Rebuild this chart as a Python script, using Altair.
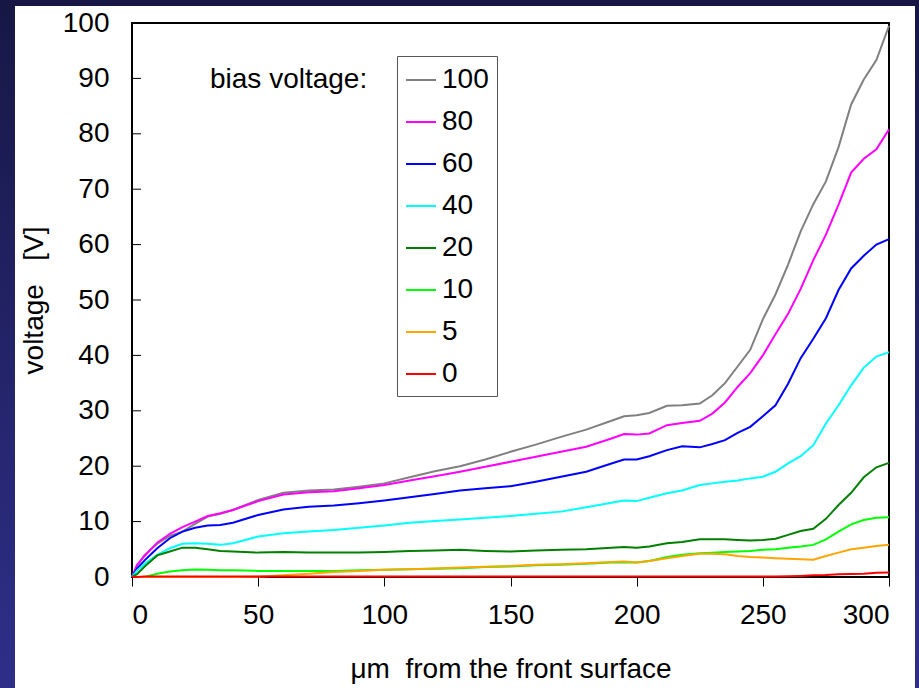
import altair as alt
import pandas as pd

# depth positions (µm from the front surface)
depth = [0, 2, 5, 10, 15, 20, 25, 30, 35, 40, 50, 60, 70, 80, 90, 100, 110, 120,
         130, 140, 150, 160, 170, 180, 190, 195, 200, 205, 212, 218, 225, 230, 235,
         240, 245, 250, 255, 260, 265, 270, 275, 280, 285, 290, 295, 300]

# potential profiles for each bias voltage [V]
v100 = [0, 2.0, 4.0, 6.0, 7.4, 8.2, 9.6, 10.9, 11.4, 12.1, 13.9, 15.2, 15.6, 15.8, 16.3, 16.9,
        18.0, 19.1, 20.0, 21.2, 22.6, 23.9, 25.3, 26.6, 28.2, 29.0, 29.2, 29.6, 30.9, 31.0,
        31.3, 32.8, 35.0, 38.0, 41.0, 46.5, 51.0, 56.4, 62.4, 67.3, 71.4, 77.6, 85.3, 89.8,
        93.3, 99.5]
v80 = [0, 2.2, 3.8, 6.2, 7.8, 9.0, 10.0, 11.0, 11.5, 12.1, 13.7, 14.9, 15.3, 15.5, 16.0, 16.6,
       17.4, 18.2, 19.0, 19.9, 20.8, 21.7, 22.6, 23.5, 25.0, 25.8, 25.7, 25.9, 27.4, 27.8,
       28.2, 29.5, 31.5, 34.3, 36.8, 40.0, 43.8, 47.5, 52.0, 57.2, 61.8, 67.2, 73.0, 75.5,
       77.2, 80.8]
v60 = [0, 1.5, 3.0, 5.2, 7.0, 8.2, 8.9, 9.3, 9.4, 9.8, 11.2, 12.2, 12.7, 12.9, 13.3, 13.8,
       14.4, 15.0, 15.6, 16.0, 16.4, 17.2, 18.1, 19.0, 20.5, 21.2, 21.2, 21.8, 22.9, 23.6,
       23.4, 24.0, 24.7, 26.0, 27.1, 29.0, 31.0, 34.9, 39.5, 43.0, 46.7, 51.8, 55.7, 58.0,
       60.0, 61.0]
v40 = [0, 1.2, 2.4, 4.0, 5.2, 6.0, 6.1, 6.0, 5.8, 6.1, 7.3, 7.9, 8.2, 8.5, 8.9, 9.3,
       9.8, 10.1, 10.4, 10.7, 11.0, 11.4, 11.8, 12.6, 13.4, 13.8, 13.7, 14.3, 15.1, 15.6,
       16.6, 16.9, 17.2, 17.4, 17.8, 18.1, 19.0, 20.5, 21.8, 23.8, 27.7, 31.0, 34.6, 37.8,
       39.8, 40.6]
v20 = [0, 0.5, 1.9, 3.9, 4.6, 5.3, 5.3, 5.0, 4.7, 4.6, 4.4, 4.5, 4.4, 4.4, 4.4, 4.5,
       4.7, 4.8, 4.9, 4.7, 4.6, 4.8, 4.9, 5.0, 5.3, 5.4, 5.3, 5.5, 6.1, 6.3,
       6.8, 6.8, 6.8, 6.7, 6.6, 6.7, 6.9, 7.6, 8.3, 8.7, 10.5, 13.0, 15.2, 18.0,
       19.8, 20.6]
v10 = [0, 0, 0, 0.6, 1.0, 1.2, 1.35, 1.3, 1.2, 1.2, 1.1, 1.1, 1.1, 1.1, 1.2, 1.3,
       1.4, 1.5, 1.6, 1.8, 1.9, 2.1, 2.2, 2.4, 2.6, 2.6, 2.6, 2.9, 3.6, 4.0,
       4.3, 4.4, 4.5, 4.6, 4.7, 4.9, 5.0, 5.3, 5.5, 5.8, 6.8, 8.2, 9.5, 10.3,
       10.7, 10.8]
v5 = [0, 0, 0, 0, 0, 0, 0, 0, 0, 0, 0.05, 0.3, 0.6, 0.9, 1.1, 1.3,
      1.4, 1.55, 1.7, 1.85, 2.0, 2.2, 2.3, 2.5, 2.7, 2.8, 2.6, 2.9, 3.4, 3.8,
      4.2, 4.2, 4.1, 3.8, 3.6, 3.5, 3.4, 3.3, 3.2, 3.1, 3.8, 4.4, 5.0, 5.3,
      5.6, 5.8]
v0 = [0, 0, 0.1, 0.1, 0.1, 0.1, 0.1, 0.1, 0.1, 0.1, 0.1, 0.1, 0.1, 0.1, 0.1, 0.1,
      0.1, 0.1, 0.1, 0.1, 0.1, 0.1, 0.1, 0.1, 0.1, 0.1, 0.1, 0.1, 0.1, 0.1,
      0.1, 0.1, 0.1, 0.1, 0.1, 0.1, 0.1, 0.15, 0.2, 0.3, 0.35, 0.5, 0.55, 0.6,
      0.75, 0.8]

bias_labels = ["100", "80", "60", "40", "20", "10", "5", "0"]
line_colors = ["#808080", "#ff00ff", "#0000ff", "#00ffff", "#008000", "#00ff00", "#ffa500", "#ff0000"]
profiles = [v100, v80, v60, v40, v20, v10, v5, v0]

x_ticks = [0, 50, 100, 150, 200, 250, 300]
y_ticks = [10, 20, 30, 40, 50, 60, 70, 80, 90]

rows = []
for lab, vals in zip(bias_labels, profiles):
    for d, v in zip(depth, vals):
        rows.append({"depth": d, "voltage": v, "bias": lab})
df = pd.DataFrame(rows)

W, H = 757, 554
FONT = "Liberation Sans"
NBSP = "\u00a0"

x_scale = alt.Scale(domain=[0, 300], nice=False, zero=False)
y_scale = alt.Scale(domain=[0, 100], nice=False)

one = pd.DataFrame({"k": [0]})

# slide backdrop and white panel
backdrop = alt.Chart(one).mark_rect(
    fill=alt.LinearGradient(
        gradient="linear",
        stops=[alt.GradientStop(offset=0, color="#171745"),
               alt.GradientStop(offset=1, color="#2f2f8a")],
        x1=0, x2=0, y1=0, y2=1,
    )
).encode(x=alt.value(-132), x2=alt.value(W + 30), y=alt.value(-23), y2=alt.value(H + 111))

panel = alt.Chart(one).mark_rect(fill="white").encode(
    x=alt.value(-117), x2=alt.value(W + 26), y=alt.value(-17), y2=alt.value(H + 111)
)

frame = alt.Chart(one).mark_rect(filled=False, stroke="black", strokeWidth=2).encode(
    x=alt.value(0), x2=alt.value(W), y=alt.value(0), y2=alt.value(H)
)

# inward tick marks on the voltage axis
yticks = alt.Chart(pd.DataFrame({"voltage": y_ticks})).mark_rule(
    color="black", strokeWidth=1
).encode(
    y=alt.Y("voltage:Q", scale=y_scale),
    x=alt.value(0),
    x2=alt.value(9),
)

lines = alt.Chart(df).mark_line(strokeWidth=2).encode(
    x=alt.X("depth:Q", scale=x_scale,
            axis=alt.Axis(values=x_ticks, title=f"μm{NBSP}{NBSP}from the front surface",
                          tickSize=9, tickColor="black", tickWidth=1,
                          labelPadding=15, titlePadding=26, zindex=2)),
    y=alt.Y("voltage:Q", scale=y_scale,
            axis=alt.Axis(values=[0] + y_ticks + [100], title=f"voltage{NBSP}{NBSP}{NBSP}[V]",
                          ticks=False, labelPadding=23, titlePadding=14, zindex=2)),
    color=alt.Color(
        "bias:N",
        scale=alt.Scale(domain=bias_labels, range=line_colors),
        legend=alt.Legend(
            title=None, orient="none", legendX=265, legendY=33, direction="vertical",
            symbolType="stroke", symbolSize=900, symbolStrokeWidth=2,
            labelFontSize=28, labelFont=FONT, labelColor="black", labelOffset=5,
            rowPadding=12, padding=8, strokeColor="#555555", fillColor="white",
            zindex=2,
        ),
    ),
)

caption = alt.Chart(pd.DataFrame({"t": ["bias voltage:"]})).mark_text(
    align="left", baseline="middle", fontSize=28, font=FONT, color="black"
).encode(text="t:N", x=alt.value(78), y=alt.value(57))

chart = alt.layer(backdrop, panel, frame, yticks, lines, caption).properties(
    width=W,
    height=H,
    padding={"left": 132, "top": 23, "right": 30, "bottom": 111},
    autosize=alt.AutoSizeParams(type="none"),
    background="#1c1c52",
).configure_axis(
    labelFont=FONT, labelFontSize=28, labelColor="black",
    titleFont=FONT, titleFontSize=28, titleFontWeight="normal", titleColor="black",
    grid=False, domain=False,
).configure_view(stroke="transparent")

chart.save("out.html", embed_options={"renderer": "svg", "actions": False})
